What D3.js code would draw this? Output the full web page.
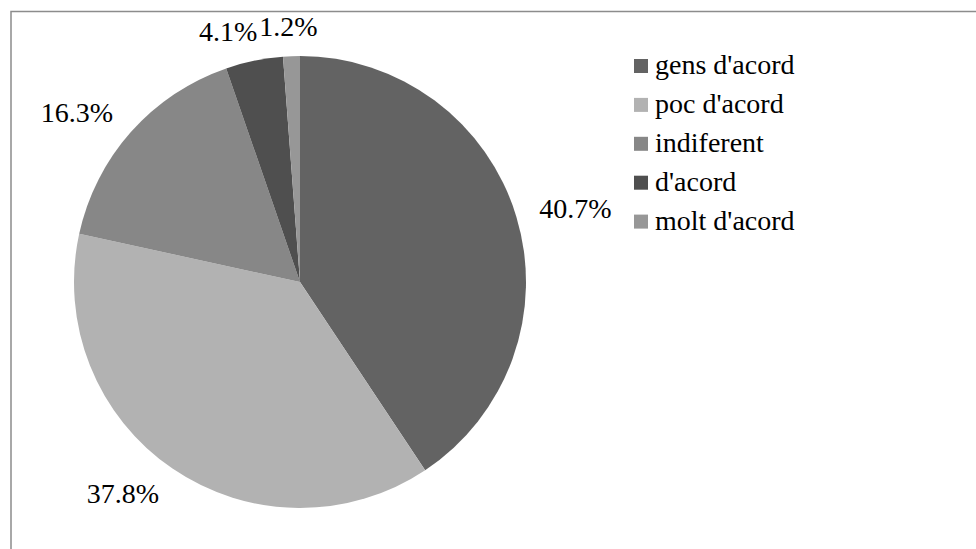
<!DOCTYPE html>
<html>
<head>
<meta charset="utf-8">
<script src="https://cdn.jsdelivr.net/npm/d3@7"></script>
<style>
  html, body { margin: 0; padding: 0; background: #fff; }
  svg { display: block; }
</style>
</head>
<body>
<svg id="chart" width="976" height="549"></svg>
<script>
// Survey answers and their shares (percent)
const categories = ["gens d'acord", "poc d'acord", "indiferent", "d'acord", "molt d'acord"];
const values = [40.7, 37.8, 16.3, 4.1, 1.2];
const colors = ["#636363", "#b2b2b2", "#878787", "#4f4f4f", "#979797"];

const width = 976, height = 549;
const cx = 300, cy = 282, radius = 226;
const fontSize = 28;
const fontFamily = "'Liberation Serif', Tinos, 'Times New Roman', 'DejaVu Serif', serif";

const svg = d3.select("#chart")
  .attr("font-family", fontFamily);

// chart frame (only top and left edges fall inside the view)
svg.append("rect")
  .attr("x", 11).attr("y", 11.5)
  .attr("width", 1200).attr("height", 800)
  .attr("fill", "none")
  .attr("stroke", "#8c8c8c")
  .attr("stroke-width", 1.5);

const color = d3.scaleOrdinal().domain(categories).range(colors);

const pie = d3.pie().sort(null).value(d => d.value);
const data = categories.map((c, i) => ({ name: c, value: values[i] }));
const arcs = pie(data);

const arc = d3.arc().innerRadius(0).outerRadius(radius);

const g = svg.append("g").attr("transform", `translate(${cx},${cy})`);

g.selectAll("path.slice")
  .data(arcs)
  .join("path")
  .attr("class", "slice")
  .attr("d", arc)
  .attr("fill", d => color(d.data.name));

// value labels, placed just outside each slice
const labelRadius = radius + 24;
const fmt = v => v.toFixed(1) + "%";

const labels = arcs.map(d => {
  const a = (d.startAngle + d.endAngle) / 2;
  const s = Math.sin(a), c = Math.cos(a);
  const text = fmt(d.data.value);
  return { d, a, s, c, text, x: 0, y: 0, w: 0 };
});

const labelSel = g.selectAll("text.value")
  .data(labels)
  .join("text")
  .attr("class", "value")
  .attr("font-family", fontFamily)
  .attr("font-size", fontSize)
  .attr("fill", "#000")
  .attr("text-anchor", "middle")
  .attr("dy", "0.35em")
  .text(l => l.text);

labelSel.each(function(l) {
  l.w = this.getComputedTextLength();
  const k = Math.max(-1, Math.min(1, l.s * 2));
  l.x = labelRadius * l.s + k * l.w / 2;
  l.y = -labelRadius * l.c - l.c * 6;
});

// resolve horizontal overlaps among labels near the top
const upper = labels.filter(l => l.c > 0.9).sort((a, b) => b.x - a.x);
for (let i = 1; i < upper.length; i++) {
  const right = upper[i - 1], left = upper[i];
  const limit = right.x - right.w / 2 - 2;
  if (left.x + left.w / 2 > limit && Math.abs(left.y - right.y) < fontSize) {
    left.x = limit - left.w / 2;
  }
}

labelSel.attr("x", l => l.x).attr("y", l => l.y);

// legend
const legend = svg.append("g").attr("transform", "translate(634,59)");
const rowStep = 38.9;
const item = legend.selectAll("g.item")
  .data(categories)
  .join("g")
  .attr("class", "item")
  .attr("transform", (d, i) => `translate(0,${i * rowStep})`);

item.append("rect")
  .attr("width", 14).attr("height", 14)
  .attr("fill", d => color(d));

item.append("text")
  .attr("x", 21).attr("y", 15)
  .attr("font-family", fontFamily)
  .attr("font-size", fontSize)
  .attr("fill", "#000")
  .text(d => d);
</script>
</body>
</html>
